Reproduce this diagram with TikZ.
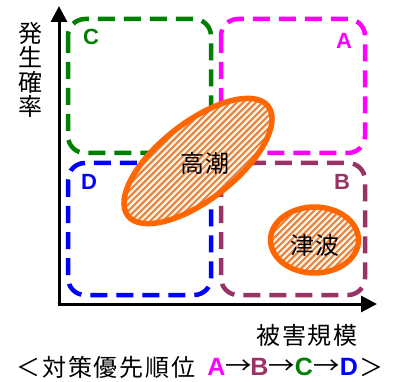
\documentclass[tikz,border=0pt]{standalone}
\usepackage{fontspec}
\newfontfamily\jp{Noto Sans CJK JP}
\newfontfamily\ar{Liberation Sans}
\usetikzlibrary{arrows.meta}
\definecolor{cA}{HTML}{FF00FF}
\definecolor{cB}{HTML}{993366}
\definecolor{cC}{HTML}{008000}
\definecolor{cD}{HTML}{0000FF}
\definecolor{orng}{HTML}{FF6600}
\definecolor{stripe}{HTML}{E8803E}
\definecolor{cream}{HTML}{FFF5E6}
\tikzset{
  zone/.style={line width=4.5pt, dash pattern=on 17pt off 9pt, rounded corners=17pt},
  axis/.style={line width=3pt, -{Triangle[width=16pt,length=16pt]}},
  jtext/.style={font=\jp\fontsize{24}{25}\selectfont, inner sep=0pt},
  hjtext/.style={font=\jp\fontsize{24}{25}\selectfont\addfontfeature{LetterSpace=8}, inner sep=0pt},
  zlabel/.style={font=\ar\bfseries\fontsize{22}{22}\selectfont, inner sep=0pt},
  oletter/.style={font=\ar\bfseries\fontsize{25}{25}\selectfont, inner sep=0pt},
  oarrow/.style={font=\jp\fontsize{24}{25}\selectfont, inner sep=0pt},
  blob/.style={line width=5.5pt, draw=orng},
}
\newcommand{\wideto}{\scalebox{1.1}[1]{→}}
\begin{document}
\begin{tikzpicture}[x=1pt,y=-1pt]
\useasboundingbox (0,0) rectangle (396,382);
% zones
\draw[zone, cC] (68,19) rectangle (211,153);
\draw[zone, cA] (221,19) rectangle (365,153);
\draw[zone, cD] (68,163) rectangle (211,295);
\draw[zone, cB] (221,163) rectangle (365,295);
\node[zlabel, text=cC] (lc) at (91,37) {C};
\node[zlabel, text=cA] (la) at (344,41) {A};
\node[zlabel, text=cD] (ld) at (89,182) {D};
\node[zlabel, text=cB] (lb) at (342,182) {B};
% axes
\coordinate (o) at (59,304);
\coordinate (ytip) at (59,6);
\coordinate (xtip) at (377,304);
\draw[axis] (o) -- (ytip);
\draw[axis] ([xshift=-1.5pt]o) -- (xtip);
% blob takashio
\begin{scope}
  \clip[rotate around={38:(198,161)}] (198,161) ellipse [x radius=89, y radius=38.5];
  \fill[cream] (0,0) rectangle (396,382);
  \foreach \k in {-400,-393.6,...,400} \draw[stripe, line width=2pt] (\k,400) -- (\k+400,0);
\end{scope}
\draw[blob, rotate around={38:(198,161)}] (198,161) ellipse [x radius=89, y radius=38.5];
\node[hjtext] (tk) at (205,163) {高潮};
% blob tsunami
\begin{scope}
  \clip (314.5,240) ellipse [x radius=44, y radius=33];
  \fill[cream] (0,0) rectangle (396,382);
  \foreach \k in {-400,-393.6,...,400} \draw[stripe, line width=2pt] (\k,400) -- (\k+400,0);
\end{scope}
\draw[blob] (314.5,240) ellipse [x radius=44, y radius=33];
\node[hjtext] (ts) at (315,245) {津波};
% axis labels
\node[jtext, align=center, font=\jp\fontsize{24}{24.5}\selectfont] (yl) at (30,70) {発\\生\\確\\率};
\node[hjtext] (xl) at (307,335) {被害規模};
% priority order
\node[hjtext, anchor=west] (order) at (16,367) {＜対策優先順位};
\node[oletter, text=cA] (oa) at (216.5,367) {A};
\node[oarrow] (ar1) at (238.5,367) {\wideto};
\node[oletter, text=cB] (ob) at (259.5,367) {B};
\node[oarrow] (ar2) at (281.5,367) {\wideto};
\node[oletter, text=cC] (oc) at (304,367) {C};
\node[oarrow] (ar3) at (326.5,367) {\wideto};
\node[oletter, text=cD] (od) at (349,367) {D};
\node[jtext] (close) at (371,367) {＞};
\end{tikzpicture}
\end{document}
